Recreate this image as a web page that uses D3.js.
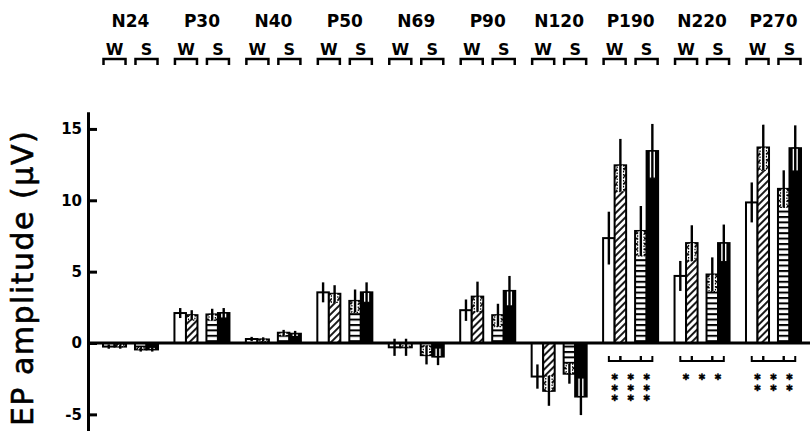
<!DOCTYPE html>
<html><head><meta charset="utf-8">
<script src="https://cdn.jsdelivr.net/npm/d3@7"></script>
<style>body{margin:0;background:#fff}</style>
</head><body><svg id="c" width="810" height="431"></svg>
<script>
// ---- data ----
const components = ["N24","P30","N40","P50","N69","P90","N120","P190","N220","P270"];
const groups = ["W","S"];
// W group: open bar, hatched bar; S group: striped bar, solid bar
const wOpen      = [-0.25, 2.1, 0.28, 3.55, -0.3, 2.3, -2.35, 7.35, 4.7, 9.85];
const wOpenErr   = [0.15, 0.35, 0.15, 0.7, 0.6, 0.75, 0.85, 1.85, 1.05, 1.4];
const wHatched   = [-0.25, 1.95, 0.25, 3.45, -0.3, 3.25, -3.35, 12.45, 7.0, 13.7];
const wHatchedErr= [0.15, 0.35, 0.15, 0.6, 0.6, 1.05, 1.05, 1.85, 1.25, 1.6];
const sStriped   = [-0.45, 2.0, 0.72, 2.95, -0.85, 1.95, -2.15, 7.85, 4.8, 10.8];
const sStripedErr= [0.15, 0.4, 0.2, 0.8, 0.65, 0.8, 0.7, 1.75, 1.2, 1.3];
const sSolid     = [-0.45, 2.1, 0.65, 3.55, -0.95, 3.65, -3.75, 13.45, 7.0, 13.65];
const sSolidErr  = [0.15, 0.35, 0.2, 0.7, 0.6, 1.05, 1.3, 1.9, 1.3, 1.6];
const yTicks = [-5, 0, 5, 10, 15];
const sigComponents = ["P190","N220","P270"];
const sigStars = [[3,3,3],[1,1,1],[2,2,2]];

const values = [wOpen, wHatched, sStriped, sSolid];
const errors = [wOpenErr, wHatchedErr, sStripedErr, sSolidErr];
const fills = ["#fff", "url(#diag)", "url(#horiz)", "#000"];

const svg = d3.select("#c");
const defs = svg.append("defs");
const pd = defs.append("pattern").attr("id","diag").attr("patternUnits","userSpaceOnUse")
  .attr("width",5).attr("height",5).attr("patternTransform","rotate(45)");
pd.append("rect").attr("width",5).attr("height",5).attr("fill","#fff");
pd.append("line").attr("x1",1).attr("x2",1).attr("y1",0).attr("y2",5).attr("stroke","#000").attr("stroke-width",1.8);
const ph = defs.append("pattern").attr("id","horiz").attr("patternUnits","userSpaceOnUse")
  .attr("width",6).attr("height",5.4);
ph.append("rect").attr("width",6).attr("height",5.4).attr("fill","#fff");
ph.append("line").attr("x1",0).attr("x2",6).attr("y1",1).attr("y2",1).attr("stroke","#000").attr("stroke-width",2);

// ---- scales ----
const xComp = d3.scaleBand().domain(components).range([103, 801]).paddingInner(0.23).paddingOuter(0);
const xGroup = d3.scaleBand().domain(groups).range([0, xComp.bandwidth()]).paddingInner(0.28);
const xBar = d3.scaleBand().domain([0,1]).range([0, xGroup.bandwidth()]);
const y = d3.scaleLinear().domain([-6.2, 16.2]).range([431.5, 111.8]);

// ---- axis ----
const ax = svg.append("g").attr("transform","translate(88,0)")
  .call(d3.axisLeft(y).tickValues(yTicks).tickSizeInner(-9).tickSizeOuter(0).tickPadding(6).tickFormat(d => String(d)));
ax.select(".domain").attr("stroke-width",3);
ax.selectAll(".tick line").attr("stroke-width",3);
ax.selectAll(".tick text").attr("font-family","DejaVu Sans").attr("font-size",15).attr("font-weight","bold").attr("fill","#000");

svg.append("text").attr("transform","translate(33,278) rotate(-90)")
  .attr("text-anchor","middle")
  .attr("font-family","DejaVu Sans").attr("font-size",30).attr("letter-spacing",1.5).attr("fill","#000")
  .attr("stroke","#000").attr("stroke-width",0.6)
  .text("EP amplitude (μV)");

// ---- header ----
const hdr = svg.append("g");
components.forEach(c => {
  const cx = xComp(c) + xComp.bandwidth()/2;
  hdr.append("text").attr("x",cx).attr("y",27).attr("text-anchor","middle")
    .attr("font-family","DejaVu Sans").attr("font-weight","bold").attr("font-size",17).text(c);
  groups.forEach(g => {
    const gx = xComp(c) + xGroup(g);
    const bw = xGroup.bandwidth();
    hdr.append("text").attr("x",gx + bw/2).attr("y",55).attr("text-anchor","middle")
      .attr("font-family","DejaVu Sans").attr("font-weight","bold").attr("font-size",16).text(g);
    hdr.append("path").attr("d",`M${gx+0.5},65V59H${gx+bw-0.5}V65`)
      .attr("fill","none").attr("stroke","#000").attr("stroke-width",2.5);
  });
});

// ---- bars ----
const bars = svg.append("g");
components.forEach((c, i) => {
  values.forEach((arr, s) => {
    const g = groups[s >> 1], p = s % 2;
    const x0 = xComp(c) + xGroup(g) + xBar(p);
    const bw = xBar.bandwidth();
    const v = arr[i], e = errors[s][i];
    const top = y(Math.max(v,0)), bot = y(Math.min(v,0));
    bars.append("rect").attr("x",x0).attr("y",top).attr("width",bw).attr("height",bot-top)
      .attr("fill",fills[s]).attr("stroke","#000").attr("stroke-width",2);
    const cx = x0 + bw/2;
    if (s > 0) {
      const inner = Math.min(e, Math.abs(v));
      const sign = v >= 0 ? 1 : -1;
      const a = y(v), b = y(v - sign*inner);
      bars.append("rect").attr("x",cx-3.2).attr("width",6.4)
        .attr("y",Math.min(a,b)).attr("height",Math.abs(b-a))
        .attr("fill","#fff").attr("stroke","#000").attr("stroke-width",1.2)
        .attr("stroke-dasharray", s === 3 ? null : "1.5,1.5");
    }
    bars.append("line").attr("x1",cx).attr("x2",cx).attr("y1",y(v+e)).attr("y2",y(v-e))
      .attr("stroke","#000").attr("stroke-width",2.4);
  });
});

// zero line
svg.append("line").attr("x1",88).attr("x2",810).attr("y1",y(0)).attr("y2",y(0))
  .attr("stroke","#000").attr("stroke-width",3);

// ---- significance ----
const sig = svg.append("g");
sigComponents.forEach((c, k) => {
  const centers = [0,1,2,3].map(s => xComp(c) + xGroup(groups[s>>1]) + xBar(s%2) + xBar.bandwidth()/2);
  const yb = y(0) + 18, yt = y(0) + 13;
  for (let j = 0; j < 3; j++) {
    const a = centers[j], b = centers[j+1];
    sig.append("path").attr("d",`M${a},${yt}V${yb}H${b}V${yt}`)
      .attr("fill","none").attr("stroke","#000").attr("stroke-width",2);
    const t = sig.append("text").attr("x",(a+b)/2).attr("y", y(0) + 34)
      .attr("text-anchor","middle").attr("dominant-baseline","central")
      .attr("font-family","DejaVu Sans").attr("font-size",8.8)
      .attr("stroke","#000").attr("stroke-width",0.35);
    for (let r = 0; r < sigStars[k][j]; r++) {
      t.append("tspan").attr("x",(a+b)/2).attr("dy", r === 0 ? 0 : 10.5).text("✱");
    }
  }
});
</script></body></html>
